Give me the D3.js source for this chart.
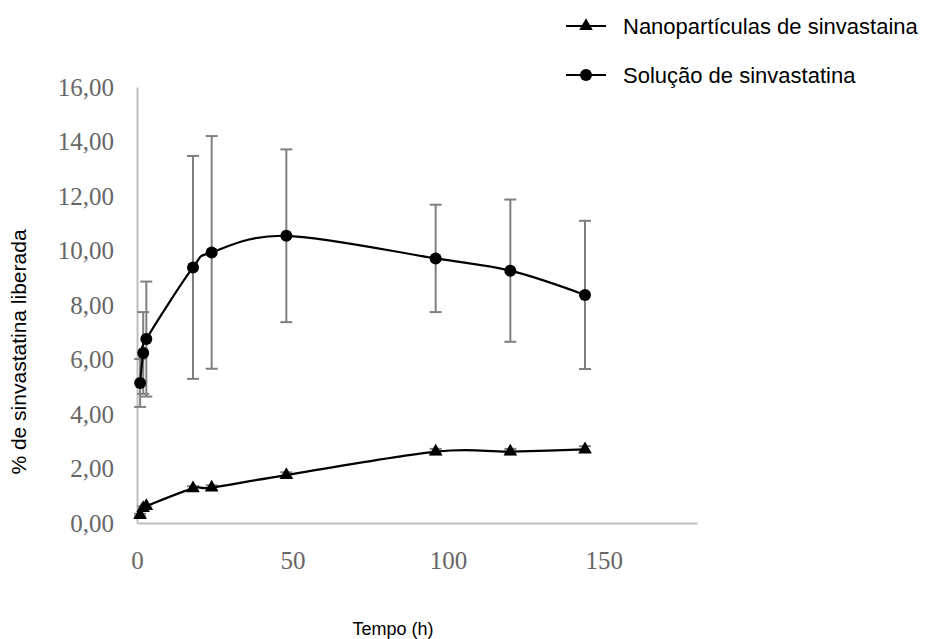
<!DOCTYPE html>
<html>
<head>
<meta charset="utf-8">
<script src="https://cdn.jsdelivr.net/npm/d3@7"></script>
<style>
  html, body { margin: 0; padding: 0; background: #fff; }
</style>
</head>
<body>
<div id="viz"></div>
<script>
// Dados
const tempos = [1, 2, 3, 18, 24, 48, 96, 120, 144];
const solucao = [5.14, 6.24, 6.75, 9.38, 9.93, 10.54, 9.71, 9.26, 8.37];
const solucaoDP = [0.88, 1.50, 2.11, 4.09, 4.27, 3.17, 1.97, 2.61, 2.72];
const nano = [0.29, 0.55, 0.62, 1.27, 1.30, 1.76, 2.62, 2.62, 2.70];
const nanoDP = [0.05, 0.06, 0.06, 0.08, 0.08, 0.10, 0.10, 0.10, 0.12];
const xTicks = [0, 50, 100, 150];
const yTicks = [0, 2, 4, 6, 8, 10, 12, 14, 16];
const nomes = ["Nanopartículas de sinvastaina", "Solução de sinvastatina"];

(function(){
  const width = 926, height = 639;

  const svg = d3.select("#viz").append("svg")
    .attr("width", width)
    .attr("height", height);

  // escalas
  const x = d3.scaleLinear().domain([0, 180]).range([137, 697]);
  const y = d3.scaleLinear().domain([0, 16]).range([523, 87]);

  const fmt = v => d3.format(".2f")(v).replace(".", ",");

  // eixos (sem marcas, linha cinza clara)
  const gx = svg.append("g")
    .attr("transform", `translate(0,${y(0)})`)
    .call(d3.axisBottom(x).tickValues(xTicks).tickSize(0).tickPadding(28).tickFormat(d3.format("d")));
  const gy = svg.append("g")
    .attr("transform", `translate(${x(0)},0)`)
    .call(d3.axisLeft(y).tickValues(yTicks).tickSize(0).tickPadding(23).tickFormat(fmt));

  [gx, gy].forEach(g => {
    g.select(".domain").attr("stroke", "#bfbfbf").attr("stroke-width", 2);
    g.selectAll("text")
      .attr("fill", "#666")
      .style("font-family", "'Liberation Serif', 'Times New Roman', serif")
      .style("font-size", "25px");
  });

  // barras de erro
  const series = [
    { nome: nomes[0], vals: nano, dp: nanoDP, tri: true },
    { nome: nomes[1], vals: solucao, dp: solucaoDP, tri: false }
  ];

  series.forEach(s => {
    const pts = tempos.map((t, i) => ({ t: t, v: s.vals[i], e: s.dp[i] }));
    const eb = svg.append("g").attr("stroke", "#7f7f7f").attr("stroke-width", 2);
    pts.forEach(p => {
      eb.append("line")
        .attr("x1", x(p.t)).attr("x2", x(p.t))
        .attr("y1", y(p.v - p.e)).attr("y2", y(p.v + p.e));
      [p.v - p.e, p.v + p.e].forEach(v => {
        eb.append("line")
          .attr("x1", x(p.t) - 6).attr("x2", x(p.t) + 6)
          .attr("y1", y(v)).attr("y2", y(v));
      });
    });
  });

  // linhas suavizadas e marcadores
  const line = d3.line()
    .x(d => x(d.t))
    .y(d => y(d.v))
    .curve(d3.curveCardinal.tension(0));

  const tri = d3.symbol(d3.symbolTriangle, 80);

  series.forEach(s => {
    const pts = tempos.map((t, i) => ({ t: t, v: s.vals[i] }));
    svg.append("path")
      .datum(pts)
      .attr("fill", "none")
      .attr("stroke", "#000")
      .attr("stroke-width", 2.2)
      .attr("d", line);
    if (s.tri) {
      svg.selectAll(null).data(pts).enter().append("path")
        .attr("d", tri)
        .attr("transform", d => `translate(${x(d.t)},${y(d.v)})`)
        .attr("fill", "#000");
    } else {
      svg.selectAll(null).data(pts).enter().append("circle")
        .attr("cx", d => x(d.t))
        .attr("cy", d => y(d.v))
        .attr("r", 6)
        .attr("fill", "#000");
    }
  });

  // títulos dos eixos
  svg.append("text")
    .attr("x", 393).attr("y", 635)
    .attr("text-anchor", "middle")
    .style("font-family", "'Liberation Sans', Arial, sans-serif")
    .style("font-size", "18px")
    .text("Tempo (h)");

  svg.append("text")
    .attr("transform", "translate(26,352) rotate(-90)")
    .attr("text-anchor", "middle")
    .style("font-family", "'Liberation Sans', Arial, sans-serif")
    .style("font-size", "21px")
    .text("% de sinvastatina liberada");

  // legenda
  const leg = svg.append("g");
  series.forEach((s, i) => {
    const ly = 26 + i * 49;
    leg.append("line")
      .attr("x1", 566).attr("x2", 606)
      .attr("y1", ly).attr("y2", ly)
      .attr("stroke", "#000").attr("stroke-width", 2.2);
    if (s.tri) {
      leg.append("path").attr("d", tri).attr("transform", `translate(586,${ly})`);
    } else {
      leg.append("circle").attr("cx", 586).attr("cy", ly).attr("r", 6);
    }
    leg.append("text")
      .attr("x", 623).attr("y", ly)
      .attr("dy", "0.35em")
      .style("font-family", "'Liberation Sans', Arial, sans-serif")
      .style("font-size", "22px")
      .text(s.nome);
  });
})();
</script>
</body>
</html>
